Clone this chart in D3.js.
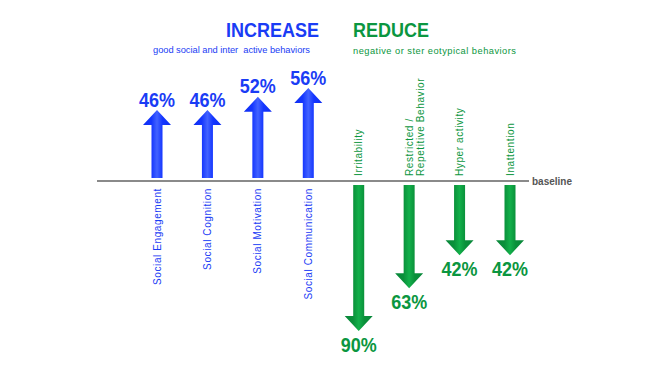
<!DOCTYPE html>
<html>
<head>
<meta charset="utf-8">
<script src="https://cdn.jsdelivr.net/npm/d3@7"></script>
<style>
  html, body { margin: 0; padding: 0; background: #fff; }
  svg { display: block; font-family: "Liberation Sans", Arial, sans-serif; }
</style>
</head>
<body>
<svg id="chart" width="650" height="366"></svg>
<script>
// ---- data ----
const increaseCategories = ["Social Engagement", "Social Cognition", "Social Motivation", "Social Communication"];
const increaseValues = [46, 46, 52, 56];
const reduceCategories = ["Irritability", "Restricted / Repetitive Behavior", "Hyper activity", "Inattention"];
const reduceValues = [90, 63, 42, 42];
const titles = ["INCREASE", "REDUCE"];
const subtitles = ["good social and inter  active behaviors", "negative or ster eotypical behaviors"];
const baselineLabel = "baseline";

// ---- setup ----
const svg = d3.select("#chart");
const BLUE = "#1a3cf5", GREEN = "#0b9640";
const allCats = increaseCategories.concat(reduceCategories);
const x = d3.scalePoint().domain(allCats).range([157, 510]);
const baseY = 181;
const upStart = 178, downStart = 185;
const yUp = d3.scaleLinear().domain([40, 60]).range([123.2, 79.2]);
const yDown = d3.scaleLinear().domain([40, 90]).range([252, 331]);
const headHalf = 14, shaftHalf = 5.5, headH = 15;

const defs = svg.append("defs");
function grad(id, edge, mid, center) {
  const g = defs.append("linearGradient").attr("id", id)
    .attr("x1", 0).attr("x2", 1).attr("y1", 0).attr("y2", 0);
  [[0, edge], [0.3, mid], [0.5, center], [0.7, mid], [1, edge]].forEach(([o, c]) =>
    g.append("stop").attr("offset", o).attr("stop-color", c));
}
grad("gBlue", "#0f2ef2", "#1436ff", "#4262ff");
grad("gGreen", "#08873a", "#0a903a", "#12b04a");

function arrowPath(cx, y0, tip) {
  const dir = tip < y0 ? 1 : -1; // 1 = up
  const hb = tip + dir * headH;
  return `M${cx - shaftHalf},${y0} L${cx - shaftHalf},${hb} L${cx - headHalf},${hb} L${cx},${tip} L${cx + headHalf},${hb} L${cx + shaftHalf},${hb} L${cx + shaftHalf},${y0} Z`;
}

// titles
svg.append("text").attr("x", 226).attr("y", 0)
  .attr("transform", "translate(0,37) scale(1,1.1)")
  .attr("font-size", 18).attr("font-weight", "bold").attr("fill", BLUE).text(titles[0]);
svg.append("text").attr("x", 353).attr("y", 0)
  .attr("transform", "translate(0,37) scale(1,1.1)")
  .attr("font-size", 18).attr("font-weight", "bold").attr("fill", GREEN).text(titles[1]);
svg.append("text").attr("x", 153).attr("y", 53).attr("xml:space", "preserve")
  .style("white-space", "pre")
  .attr("textLength", 157).attr("lengthAdjust", "spacing")
  .attr("font-size", 9.3).attr("fill", BLUE).text(subtitles[0]);
svg.append("text").attr("x", 353).attr("y", 54)
  .attr("textLength", 163).attr("lengthAdjust", "spacing")
  .attr("font-size", 9.3).attr("fill", GREEN).text(subtitles[1]);

// baseline
svg.append("line").attr("x1", 97).attr("x2", 529).attr("y1", baseY).attr("y2", baseY)
  .attr("stroke", "#8a8a8a").attr("stroke-width", 2);
svg.append("text").attr("x", 532).attr("y", baseY + 3.5)
  .attr("font-size", 10).attr("font-weight", "bold").attr("fill", "#555").text(baselineLabel);

// increase arrows
const up = svg.append("g");
increaseCategories.forEach((c, i) => {
  const cx = x(c), tip = yUp(increaseValues[i]);
  up.append("path").attr("d", arrowPath(cx, upStart, tip)).attr("fill", "url(#gBlue)");
  up.append("text").attr("text-anchor", "middle")
    .attr("transform", `translate(${cx},${tip - 3.5}) scale(1,1.15)`)
    .attr("font-size", 18).attr("font-weight", "bold").attr("fill", BLUE)
    .text(increaseValues[i] + "%");
  up.append("text").attr("text-anchor", "end")
    .attr("transform", `translate(${cx},${188}) rotate(-90)`)
    .attr("dy", "0.35em").attr("font-size", 10).attr("letter-spacing", 0.6)
    .attr("fill", BLUE).text(c);
});

// reduce arrows
const down = svg.append("g");
reduceCategories.forEach((c, i) => {
  const cx = x(c), tip = yDown(reduceValues[i]);
  down.append("path").attr("d", arrowPath(cx, downStart, tip)).attr("fill", "url(#gGreen)");
  down.append("text").attr("text-anchor", "middle")
    .attr("transform", `translate(${cx},${tip + 21}) scale(1,1.15)`)
    .attr("font-size", 18).attr("font-weight", "bold").attr("fill", GREEN)
    .text(reduceValues[i] + "%");
  const lines = c.split(/(?<=\/) /);
  lines.forEach((ln, j) => {
    down.append("text").attr("text-anchor", "start")
      .attr("transform", `translate(${cx + j * 11},${176}) rotate(-90)`)
      .attr("dy", "0.35em").attr("font-size", 10).attr("letter-spacing", 0.6)
      .attr("fill", GREEN).text(ln);
  });
});
</script>
</body>
</html>
